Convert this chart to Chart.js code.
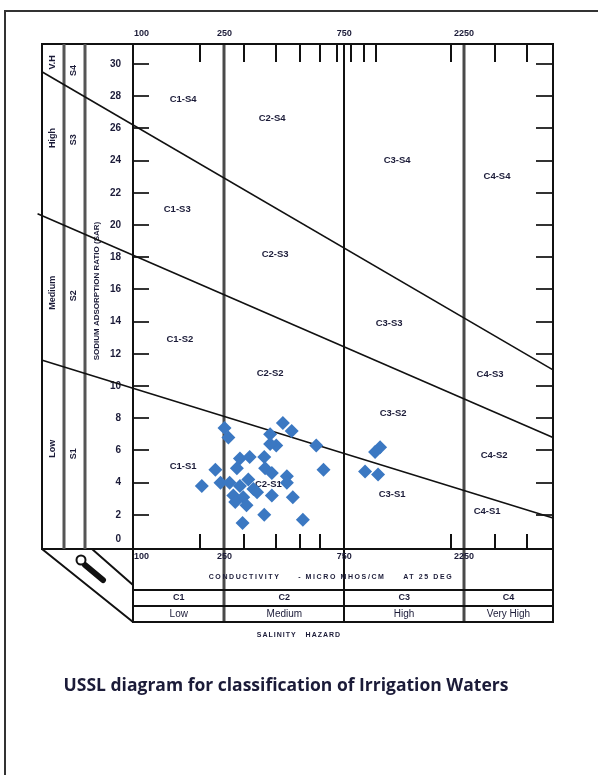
<!DOCTYPE html>
<html>
<head>
<meta charset="utf-8">
<script src="https://cdn.jsdelivr.net/npm/chart.js@4"></script>
<style>
    html, body { margin: 0; padding: 0; background: #fff; }
    canvas { display: block; }
</style>
</head>
<body>
<canvas id="ussl" width="598" height="775"></canvas>
<script>
// samples: conductivity (micromhos/cm) and SAR
var ecValues = [250, 259, 427, 463, 380, 402, 380, 580, 288, 315, 360, 280, 230, 363, 386, 443, 620,
    203, 241, 262, 288, 311, 326, 271, 297, 276, 306, 386, 468, 443, 360, 513, 295, 337,
    995, 1042, 908, 1023];
var sarValues = [7.4, 6.8, 7.7, 7.2, 7.0, 6.3, 6.4, 6.3, 5.5, 5.6, 5.6, 4.9, 4.8, 4.9, 4.6, 4.4, 4.8,
    3.8, 4.0, 4.0, 3.8, 4.2, 3.6, 3.2, 3.1, 2.8, 2.6, 3.2, 3.1, 4.0, 2.0, 1.7, 1.5, 3.4,
    5.9, 6.2, 4.7, 4.5];

// salinity classes
var classLimits = [250, 750, 2250];
var classNames = ['C1', 'C2', 'C3', 'C4'];
var classLevels = ['Low', 'Medium', 'High', 'Very High'];
var ecLabels = [100, 250, 750, 2250];
var ecTicksTop = [200, 300, 400, 500, 600, 700, 800, 900, 1000, 2000, 3000, 4000];
var ecTicksBottom = [200, 300, 400, 500, 600, 2000, 3000, 4000];
var sarTicks = [0, 2, 4, 6, 8, 10, 12, 14, 16, 18, 20, 22, 24, 26, 28, 30];

// sodium hazard boundaries (sar at the two ends)
var boundEcS1 = [47, 5090], boundSarS1 = [11.6, 1.8];
var boundEcS2 = [45, 5090], boundSarS2 = [20.7, 6.8];
var boundEcS3 = [47, 5090], boundSarS3 = [29.5, 11.0];
var sodiumNames = ['S1', 'S2', 'S3', 'S4'];
var sodiumLevels = ['Low', 'Medium', 'High', 'V.H'];

// zone labels
var zoneNames = ['C1-S4', 'C2-S4', 'C3-S4', 'C4-S4', 'C1-S3', 'C2-S3', 'C3-S3', 'C4-S3',
    'C1-S2', 'C2-S2', 'C3-S2', 'C4-S2', 'C1-S1', 'C2-S1', 'C3-S1', 'C4-S1'];
var zoneEc = [171, 387, 1218, 3046, 162, 398, 1132, 2858, 166, 380, 1174, 2965, 171, 374, 1164, 2781];
var zoneSar = [27.8, 26.6, 24.0, 23.0, 21.0, 18.2, 13.9, 10.7, 12.9, 10.8, 8.3, 5.7, 5.0, 3.9, 3.3, 2.2];

var points = [];
for (var i = 0; i < ecValues.length; i++) {
    points.push({ x: ecValues[i], y: sarValues[i] });
}
function bound(ecs, sars) {
    return [{ x: ecs[0], y: sars[0] }, { x: ecs[1], y: sars[1] }];
}

var ink = '#1b1b38';
var sodiumY = [5.8, 15.6, 25.3, 29.6];   // label heights in sar units (layout)
var levelY = [6.1, 15.8, 25.4, 30.1];
var classLineColor = ['#4a4a4a', '#111', '#4a4a4a'];
var classLineWidth = [3, 2, 3];

var ussl = {
    id: 'ussl',
    beforeDatasetsDraw: function (chart) {
        var c = chart.ctx, a = chart.chartArea, xs = chart.scales.x, ys = chart.scales.y;
        var panelL = 42, col1 = 64, col2 = 85;
        var row1 = 590, row2 = 606, tableB = 622;
        c.save();

        // page frame
        c.strokeStyle = '#333';
        c.lineWidth = 2;
        c.beginPath();
        c.moveTo(5, 775); c.lineTo(5, 11); c.lineTo(598, 11);
        c.stroke();

        // class lines
        classLimits.forEach(function (v, i) {
            var x = Math.round(xs.getPixelForValue(v));
            c.strokeStyle = classLineColor[i];
            c.lineWidth = classLineWidth[i];
            c.beginPath(); c.moveTo(x, a.top); c.lineTo(x, tableB); c.stroke();
        });

        // ticks
        c.lineWidth = 2;
        c.strokeStyle = '#111';
        ecTicksTop.forEach(function (v) {
            var x = Math.round(xs.getPixelForValue(v));
            c.beginPath(); c.moveTo(x, a.top); c.lineTo(x, a.top + 18); c.stroke();
        });
        ecTicksBottom.forEach(function (v) {
            var x = Math.round(xs.getPixelForValue(v));
            c.beginPath(); c.moveTo(x, a.bottom); c.lineTo(x, a.bottom - 15); c.stroke();
        });
        c.strokeStyle = '#333';
        sarTicks.forEach(function (v) {
            if (v === 0) return;
            var y = Math.round(ys.getPixelForValue(v));
            c.beginPath(); c.moveTo(a.left, y); c.lineTo(a.left + 16, y); c.stroke();
            c.beginPath(); c.moveTo(a.right, y); c.lineTo(a.right - 17, y); c.stroke();
        });

        // left panel
        c.strokeStyle = '#111';
        c.lineWidth = 2;
        c.strokeRect(panelL, a.top, a.left - panelL, a.bottom - a.top);
        c.strokeStyle = '#555';
        c.lineWidth = 3;
        [col1, col2].forEach(function (x) {
            c.beginPath(); c.moveTo(x, a.top); c.lineTo(x, a.bottom); c.stroke();
        });

        // table under the plot
        c.strokeStyle = '#111';
        c.lineWidth = 2;
        c.strokeRect(a.left, a.bottom, a.right - a.left, tableB - a.bottom);
        [row1, row2].forEach(function (y) {
            c.beginPath(); c.moveTo(a.left, y); c.lineTo(a.right, y); c.stroke();
        });

        // corner piece with the key
        c.beginPath();
        c.moveTo(panelL, a.bottom); c.lineTo(a.left, tableB);
        c.moveTo(92, a.bottom); c.lineTo(a.left, 585);
        c.stroke();
        c.lineCap = 'round';
        c.lineWidth = 6;
        c.beginPath(); c.moveTo(85, 565); c.lineTo(103, 580); c.stroke();
        c.lineWidth = 2;
        c.fillStyle = '#fff';
        c.beginPath(); c.arc(81, 560, 4.5, 0, Math.PI * 2); c.fill(); c.stroke();
        c.lineCap = 'butt';

        // plot border
        c.lineWidth = 2;
        c.strokeRect(a.left, a.top, a.right - a.left, a.bottom - a.top);

        c.fillStyle = ink;
        c.textBaseline = 'middle';

        // sar tick labels
        c.font = 'bold 10px "Liberation Sans"';
        c.textAlign = 'right';
        sarTicks.forEach(function (v) {
            c.fillText(String(v), 121, Math.min(ys.getPixelForValue(v), a.bottom - 10));
        });

        // ec labels top and bottom
        c.font = 'bold 9px "Liberation Sans"';
        ecLabels.forEach(function (v) {
            var x = xs.getPixelForValue(v);
            c.textAlign = 'center';
            if (x < a.left) {
                x = a.left + 1;
                c.textAlign = 'left';
            }
            c.fillText(String(v), x, 34);
            c.fillText(String(v), x, 557);
        });

        // zone labels
        c.font = 'bold 9.5px "Liberation Sans"';
        c.textAlign = 'center';
        zoneNames.forEach(function (n, i) {
            c.fillText(n, xs.getPixelForValue(zoneEc[i]), ys.getPixelForValue(zoneSar[i]));
        });

        // classes row
        var edges = [a.left].concat(classLimits.map(function (v) { return xs.getPixelForValue(v); }), [a.right]);
        for (var k = 0; k < classNames.length; k++) {
            var cx = (edges[k] + edges[k + 1]) / 2;
            c.font = 'bold 9px "Liberation Sans"';
            c.fillText(classNames[k], cx, 598);
            c.font = '10px "Liberation Sans"';
            c.fillText(classLevels[k], cx, 614);
        }

        c.font = 'bold 7px "Liberation Sans"';
        c.letterSpacing = '1.6px';
        c.fillText('CONDUCTIVITY     - MICRO MHOS/CM     AT 25 DEG', 331, 577);
        c.letterSpacing = '1px';
        c.fillText('SALINITY   HAZARD', 299, 635);
        c.letterSpacing = '0px';

        // rotated panel labels
        function vtext(t, x, y, font) {
            c.save();
            c.translate(x, y);
            c.rotate(-Math.PI / 2);
            c.font = font;
            c.textAlign = 'center';
            c.fillText(t, 0, 0);
            c.restore();
        }
        for (var s = 0; s < sodiumNames.length; s++) {
            vtext(sodiumNames[s], 74, ys.getPixelForValue(sodiumY[s]), 'bold 9px "Liberation Sans"');
            vtext(sodiumLevels[s], 53, ys.getPixelForValue(levelY[s]), 'bold 9px "Liberation Sans"');
        }
        vtext('SODIUM ADSORPTION RATIO (SAR)', 97, 291, 'bold 8px "Liberation Sans"');

        c.restore();
    },
    afterDraw: function (chart) {
        var c = chart.ctx;
        c.save();
        c.fillStyle = ink;
        c.font = 'bold 17.5px "Open Sans"';
        c.textAlign = 'center';
        c.textBaseline = 'middle';
        c.fillText('USSL diagram for classification of Irrigation Waters', 286, 686);
        c.restore();
    }
};

var lineStyle = { type: 'line', borderColor: '#111', borderWidth: 1.6, pointRadius: 0, clip: false, fill: false };

var ctx = document.getElementById('ussl').getContext('2d');
var usslChart = new Chart(ctx, {
    type: 'scatter',
    data: {
        datasets: [{
            label: 'Samples',
            data: points,
            pointStyle: 'rectRot',
            pointRadius: 7,
            backgroundColor: '#3b78c2',
            borderWidth: 0
        },
        Object.assign({ label: 'S1/S2', data: bound(boundEcS1, boundSarS1) }, lineStyle),
        Object.assign({ label: 'S2/S3', data: bound(boundEcS2, boundSarS2) }, lineStyle),
        Object.assign({ label: 'S3/S4', data: bound(boundEcS3, boundSarS3) }, lineStyle)]
    },
    options: {
        responsive: false,
        animation: false,
        devicePixelRatio: 1,
        layout: { padding: { left: 133, top: 44, right: 45, bottom: 226 } },
        scales: {
            x: { type: 'logarithmic', min: 108, max: 5090, display: false },
            y: { min: -0.12, max: 31.24, display: false }
        },
        plugins: {
            legend: { display: false },
            tooltip: { enabled: false }
        }
    },
    plugins: [ussl]
});
</script>
</body>
</html>
